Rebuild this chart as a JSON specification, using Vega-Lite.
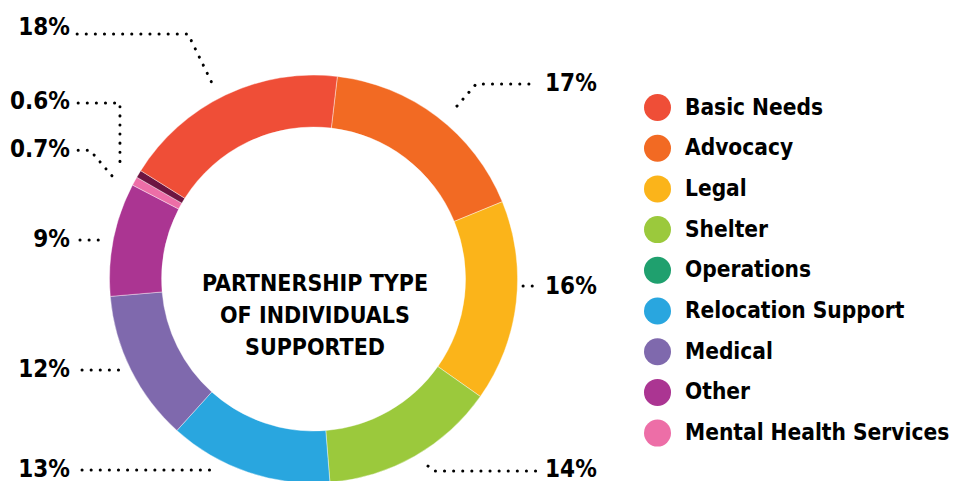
{
  "$schema": "https://vega.github.io/schema/vega-lite/v6.json",
  "width": 968,
  "height": 481,
  "padding": 0,
  "autosize": {"type": "none"},
  "background": "#ffffff",
  "config": {"view": {"stroke": null}},
  "datasets": {
    "slices": [
      {"cat": "Advocacy", "value": 17, "ord": 1},
      {"cat": "Legal", "value": 16, "ord": 2},
      {"cat": "Shelter", "value": 14, "ord": 3},
      {"cat": "Relocation Support", "value": 13, "ord": 4},
      {"cat": "Medical", "value": 12, "ord": 5},
      {"cat": "Other", "value": 9, "ord": 6},
      {"cat": "Mental Health Services", "value": 0.7, "ord": 7},
      {"cat": "Operations", "value": 0.6, "ord": 8},
      {"cat": "Basic Needs", "value": 18, "ord": 9}
    ],
    "leaders": [
      {"id": "18", "seq": 1, "x": -115.9, "y": 120.1},
      {"id": "18", "seq": 2, "x": -61.5, "y": 120.1},
      {"id": "18", "seq": 3, "x": -49.8, "y": 96.1},
      {"id": "0.6", "seq": 1, "x": -115.4, "y": 86.3},
      {"id": "0.6", "seq": 2, "x": -94.9, "y": 86.3},
      {"id": "0.6", "seq": 3, "x": -94.9, "y": 55.9},
      {"id": "0.7", "seq": 1, "x": -115.4, "y": 63.2},
      {"id": "0.7", "seq": 2, "x": -109.6, "y": 63.2},
      {"id": "0.7", "seq": 3, "x": -98.3, "y": 50.0},
      {"id": "9", "seq": 1, "x": -114.5, "y": 19.1},
      {"id": "9", "seq": 2, "x": -102.2, "y": 19.1},
      {"id": "12", "seq": 1, "x": -113.5, "y": -44.6},
      {"id": "12", "seq": 2, "x": -94.9, "y": -44.6},
      {"id": "13", "seq": 1, "x": -113.5, "y": -93.6},
      {"id": "13", "seq": 2, "x": -50.7, "y": -93.6},
      {"id": "14", "seq": 1, "x": 56.1, "y": -91.7},
      {"id": "14", "seq": 2, "x": 59.1, "y": -94.1},
      {"id": "14", "seq": 3, "x": 109.6, "y": -94.1},
      {"id": "16", "seq": 1, "x": 102.7, "y": -3.4},
      {"id": "16", "seq": 2, "x": 109.1, "y": -3.4},
      {"id": "17", "seq": 1, "x": 70.3, "y": 84.8},
      {"id": "17", "seq": 2, "x": 79.7, "y": 95.6},
      {"id": "17", "seq": 3, "x": 108.1, "y": 95.6}
    ],
    "labels": [
      {"text": "18%", "side": "left", "x": -119.4, "y": 123.0},
      {"text": "0.6%", "side": "left", "x": -119.4, "y": 86.8},
      {"text": "0.7%", "side": "left", "x": -119.4, "y": 63.2},
      {"text": "9%", "side": "left", "x": -119.4, "y": 19.1},
      {"text": "12%", "side": "left", "x": -119.4, "y": -44.6},
      {"text": "13%", "side": "left", "x": -119.4, "y": -93.6},
      {"text": "17%", "side": "right", "x": 113.5, "y": 95.6},
      {"text": "16%", "side": "right", "x": 113.5, "y": -3.9},
      {"text": "14%", "side": "right", "x": 113.5, "y": -93.6}
    ],
    "title": [
      {"text": "PARTNERSHIP TYPE|OF INDIVIDUALS|SUPPORTED", "x": 0.7, "y": -2.5}
    ]
  },
  "layer": [
    {
      "data": {"name": "slices"},
      "mark": {"type": "arc", "radius": 204, "radius2": 152, "stroke": "#ffffff", "strokeWidth": 0.4},
      "encoding": {
        "x": {"datum": 0, "type": "quantitative", "scale": {"domain": [-153.7, 320.8], "nice": false, "zero": false}, "axis": null},
        "y": {"datum": 0, "type": "quantitative", "scale": {"domain": [-99.0, 136.8], "nice": false, "zero": false}, "axis": null},
        "theta": {"field": "value", "type": "quantitative", "stack": true, "scale": {"range": [0.117, 6.4002]}},
        "order": {"field": "ord", "type": "quantitative"},
        "color": {
          "condition": {"test": "datum.cat === 'Operations'", "value": "#6d1541"},
          "field": "cat",
          "type": "nominal",
          "scale": {
            "domain": ["Basic Needs", "Advocacy", "Legal", "Shelter", "Operations", "Relocation Support", "Medical", "Other", "Mental Health Services"],
            "range": ["#ef4e37", "#f26a23", "#fbb41a", "#9bc93c", "#1fa06e", "#29a6df", "#7f69ad", "#ab3592", "#ed6ea7"]
          },
          "legend": {
            "orient": "none",
            "legendX": 644,
            "legendY": 94,
            "title": null,
            "padding": 0,
            "symbolType": "circle",
            "symbolSize": 729,
            "symbolStrokeWidth": 0,
            "symbolOpacity": 1,
            "labelFont": "DejaVu Sans Condensed",
            "labelFontSize": 22.5,
            "labelFontWeight": "bold",
            "labelColor": "#000000",
            "labelOffset": 14,
            "rowPadding": 13.7,
            "labelLimit": 400
          }
        }
      }
    },
    {
      "data": {"name": "leaders"},
      "mark": {"type": "line", "color": "#000000", "strokeWidth": 3, "strokeCap": "round", "strokeDash": [0.1, 9]},
      "encoding": {
        "x": {"field": "x", "type": "quantitative"},
        "y": {"field": "y", "type": "quantitative"},
        "detail": {"field": "id"},
        "order": {"field": "seq", "type": "quantitative"}
      }
    },
    {
      "data": {"name": "labels"},
      "transform": [{"filter": "datum.side === 'left'"}],
      "mark": {"type": "text", "align": "right", "baseline": "middle", "font": "DejaVu Sans Condensed", "fontSize": 24, "fontWeight": "bold", "color": "#000000"},
      "encoding": {
        "x": {"field": "x", "type": "quantitative"},
        "y": {"field": "y", "type": "quantitative"},
        "text": {"field": "text"}
      }
    },
    {
      "data": {"name": "labels"},
      "transform": [{"filter": "datum.side === 'right'"}],
      "mark": {"type": "text", "align": "left", "baseline": "middle", "font": "DejaVu Sans Condensed", "fontSize": 24, "fontWeight": "bold", "color": "#000000"},
      "encoding": {
        "x": {"field": "x", "type": "quantitative"},
        "y": {"field": "y", "type": "quantitative"},
        "text": {"field": "text"}
      }
    },
    {
      "data": {"name": "title"},
      "mark": {"type": "text", "align": "center", "baseline": "middle", "lineBreak": "|", "lineHeight": 32, "font": "DejaVu Sans Condensed", "fontSize": 23, "fontWeight": "bold", "color": "#000000"},
      "encoding": {
        "x": {"field": "x", "type": "quantitative"},
        "y": {"field": "y", "type": "quantitative"},
        "text": {"field": "text"}
      }
    }
  ]
}
